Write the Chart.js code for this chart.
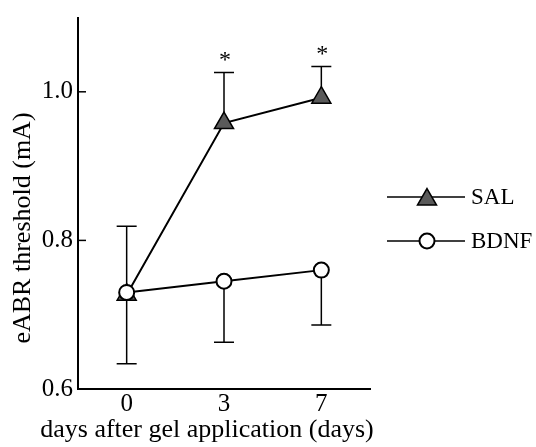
<!DOCTYPE html>
<html>
<head>
<meta charset="utf-8">
<script src="https://cdn.jsdelivr.net/npm/chart.js@4/dist/chart.umd.min.js"></script>
<style>
  html, body { margin: 0; padding: 0; background: #fff; }
  #wrap { width: 536px; height: 447px; }
</style>
</head>
<body>
<div id="wrap"><canvas id="abrChart" width="536" height="447"></canvas></div>
<script>
const days = ["0", "3", "7"];
const salMean = [0.727, 0.958, 0.992];
const salErrUp = [0.092, 0.068, 0.042];
const bdnfMean = [0.730, 0.745, 0.760];
const bdnfErrDown = [0.096, 0.082, 0.074];
const sigMarks = ["", "*", "*"];
const yTicks = [0.6, 0.8, 1.0];

const FONT = "'Liberation Serif', 'DejaVu Serif', serif";

/* error bars, asterisks, inward ticks, titles and legend */
const extras = {
  id: "extras",
  beforeDatasetsDraw(chart) {
    const ctx = chart.ctx;
    const x = chart.scales.x, y = chart.scales.y;
    ctx.save();
    ctx.strokeStyle = "#000";
    ctx.lineWidth = 1.5;
    const cap = 10;
    days.forEach((d, i) => {
      const px = x.getPixelForValue(i);
      // SAL upward
      let y0 = y.getPixelForValue(salMean[i]);
      let y1 = y.getPixelForValue(salMean[i] + salErrUp[i]);
      ctx.beginPath();
      ctx.moveTo(px, y0); ctx.lineTo(px, y1);
      ctx.moveTo(px - cap, y1); ctx.lineTo(px + cap, y1);
      ctx.stroke();
      // BDNF downward
      y0 = y.getPixelForValue(bdnfMean[i]);
      y1 = y.getPixelForValue(bdnfMean[i] - bdnfErrDown[i]);
      ctx.beginPath();
      ctx.moveTo(px, y0); ctx.lineTo(px, y1);
      ctx.moveTo(px - cap, y1); ctx.lineTo(px + cap, y1);
      ctx.stroke();
    });
    ctx.restore();
  },
  afterDraw(chart) {
    const ctx = chart.ctx;
    const x = chart.scales.x, y = chart.scales.y;
    const area = chart.chartArea;
    ctx.save();
    ctx.fillStyle = "#000";
    ctx.strokeStyle = "#000";

    // asterisks
    ctx.font = "24px " + FONT;
    ctx.textAlign = "center";
    ctx.textBaseline = "middle";
    sigMarks.forEach((m, i) => {
      if (!m) return;
      const px = x.getPixelForValue(i);
      const py = y.getPixelForValue(salMean[i] + salErrUp[i]) - 12;
      ctx.fillText(m, px + 1, py);
    });

    // inward y ticks
    ctx.lineWidth = 1.5;
    yTicks.forEach(v => {
      const py = y.getPixelForValue(v);
      ctx.beginPath();
      ctx.moveTo(area.left, py); ctx.lineTo(area.left + 8, py);
      ctx.stroke();
    });

    // axis titles
    ctx.font = "26px " + FONT;
    ctx.textAlign = "center";
    ctx.textBaseline = "middle";
    ctx.fillText("days after gel application (days)", 207, 430);
    ctx.save();
    ctx.translate(23, 228);
    ctx.rotate(-Math.PI / 2);
    ctx.fillText("eABR threshold (mA)", 0, 0);
    ctx.restore();

    // legend
    const items = [
      { label: "SAL", y: 197, shape: "tri" },
      { label: "BDNF", y: 241, shape: "circ" }
    ];
    ctx.font = "23px " + FONT;
    ctx.textAlign = "left";
    items.forEach(it => {
      ctx.lineWidth = 1.5;
      ctx.beginPath();
      ctx.moveTo(387, it.y); ctx.lineTo(465, it.y);
      ctx.stroke();
      const cx = 427;
      if (it.shape === "tri") {
        const r = 11;
        ctx.beginPath();
        ctx.moveTo(cx, it.y - r + 2.5);
        ctx.lineTo(cx + r * Math.sqrt(3) / 2, it.y + r / 2 + 2.5);
        ctx.lineTo(cx - r * Math.sqrt(3) / 2, it.y + r / 2 + 2.5);
        ctx.closePath();
        ctx.fillStyle = "#5a5a5a";
        ctx.fill();
        ctx.stroke();
      } else {
        ctx.beginPath();
        ctx.arc(cx, it.y, 7.5, 0, Math.PI * 2);
        ctx.fillStyle = "#fff";
        ctx.fill();
        ctx.lineWidth = 2;
        ctx.stroke();
      }
      ctx.fillStyle = "#000";
      ctx.fillText(it.label, 471, it.y + 1);
    });
    ctx.restore();
  }
};

new Chart(document.getElementById("abrChart"), {
  type: "line",
  data: {
    labels: days,
    datasets: [
      {
        label: "SAL",
        data: salMean,
        order: 1,
        borderColor: "#000",
        borderWidth: 2,
        pointStyle: "triangle",
        pointRadius: 11,
        pointBackgroundColor: "#5a5a5a",
        pointBorderColor: "#000",
        pointBorderWidth: 1.5,
        tension: 0
      },
      {
        label: "BDNF",
        data: bdnfMean,
        order: 0,
        borderColor: "#000",
        borderWidth: 2,
        pointStyle: "circle",
        pointRadius: 7.5,
        pointBackgroundColor: "#fff",
        pointBorderColor: "#000",
        pointBorderWidth: 2,
        tension: 0
      }
    ]
  },
  options: {
    responsive: false,
    animation: false,
    layout: { padding: { top: 15, right: 166, left: 0, bottom: 0 } },
    plugins: {
      legend: { display: false },
      tooltip: { enabled: false }
    },
    scales: {
      x: {
        type: "category",
        offset: true,
        grid: { display: false, drawTicks: false },
        border: { display: true, color: "#000", width: 2 },
        ticks: { color: "#000", font: { family: FONT, size: 25, lineHeight: 1 }, padding: 3 },
        afterFit: s => { s.height = 58; }
      },
      y: {
        min: 0.6,
        max: 1.1,
        grid: { display: false, drawTicks: false },
        border: { display: true, color: "#000", width: 2 },
        afterBuildTicks: s => { s.ticks = yTicks.map(v => ({ value: v })); },
        ticks: {
          color: "#000",
          font: { family: FONT, size: 25, lineHeight: 1 },
          padding: 5,
          callback: v => v.toFixed(1)
        },
        afterFit: s => { s.width = 78; }
      }
    }
  },
  plugins: [extras]
});
</script>
</body>
</html>
